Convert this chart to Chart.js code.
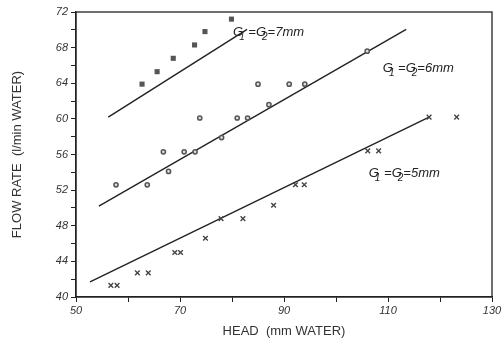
<!DOCTYPE html>
<html>
<head>
<meta charset="utf-8">
<script src="https://cdn.jsdelivr.net/npm/chart.js@4"></script>
<style>
  html, body { margin: 0; padding: 0; background: #fff; }
  #wrap { width: 504px; height: 343px; }
</style>
</head>
<body>
<div id="wrap"><canvas id="chart"></canvas></div>
<script>
// datos
const gap7Head = [62.7, 65.6, 68.7, 72.8, 74.8, 79.9];
const gap7Flow = [63.9, 65.3, 66.8, 68.3, 69.8, 71.2];

const gap6Head = [57.7, 63.7, 66.8, 67.8, 70.8, 72.9, 73.8, 78.0, 81.0, 83.0, 85.0, 87.1, 91.0, 94.0, 106.0];
const gap6Flow = [52.6, 52.6, 56.3, 54.1, 56.3, 56.3, 60.1, 57.9, 60.1, 60.1, 63.9, 61.6, 63.9, 63.9, 67.6];

const gap5Head = [56.7, 57.9, 61.8, 63.9, 69.0, 70.1, 74.9, 77.9, 82.1, 88.0, 92.2, 93.9, 106.1, 108.2, 117.9, 123.2];
const gap5Flow = [41.3, 41.3, 42.7, 42.7, 45.0, 45.0, 46.6, 48.8, 48.8, 50.3, 52.6, 52.6, 56.4, 56.4, 60.2, 60.2];

// rectas de ajuste (extremos)
const fit7Head = [56.2, 82.9];
const fit7Flow = [60.2, 70.05];
const fit6Head = [54.4, 113.5];
const fit6Flow = [50.2, 70.05];
const fit5Head = [52.7, 117.9];
const fit5Flow = [41.7, 60.2];

const xTicks = [50, 70, 90, 110, 130];
const yTicks = [40, 44, 48, 52, 56, 60, 64, 68, 72];

const labels = [
    { head: 80.2, flow: 69.3, gap: '7mm' },
    { head: 109.0, flow: 65.3, gap: '6mm' },
    { head: 106.3, flow: 53.5, gap: '5mm' }
];

function toPoints(xs, ys) {
    return xs.map((x, i) => ({ x: x, y: ys[i] }));
}

const ink = '#222';
const markColor = '#555';

// marco completo del area
const framePlugin = {
    id: 'frame',
    afterDraw(chart) {
        const a = chart.chartArea;
        const ctx = chart.ctx;
        ctx.save();
        ctx.strokeStyle = ink;
        ctx.lineWidth = 1.3;
        ctx.strokeRect(a.left, a.top, a.right - a.left, a.bottom - a.top);
        ctx.restore();
    }
};

// etiquetas G1 = G2 = ...
const gapLabelPlugin = {
    id: 'gapLabels',
    afterDatasetsDraw(chart) {
        const ctx = chart.ctx;
        const xs = chart.scales.x;
        const ys = chart.scales.y;
        ctx.save();
        ctx.fillStyle = ink;
        ctx.textBaseline = 'alphabetic';
        labels.forEach(l => {
            let px = xs.getPixelForValue(l.head);
            let py = ys.getPixelForValue(l.flow);
            const big = 'italic 13px "Liberation Sans", Arial, sans-serif';
            const small = 'italic 10px "Liberation Sans", Arial, sans-serif';
            const parts = [
                ['G', big, 0], ['1', small, 4], [' =G', big, 0], ['2', small, 4], ['=' + l.gap, big, 0]
            ];
            parts.forEach(p => {
                ctx.font = p[1];
                let w = ctx.measureText(p[0]).width;
                if (p[0] === '1' || p[0] === '2') {
                    ctx.fillText(p[0], px - 4, py + p[2]);
                    px += w - 4;
                } else {
                    ctx.fillText(p[0], px, py + p[2]);
                    px += w;
                }
            });
        });
        ctx.restore();
    }
};

const tickFont = { family: '"Liberation Sans", Arial, sans-serif', size: 11, style: 'italic' };
const titleFont = { family: '"Liberation Sans", Arial, sans-serif', size: 13 };

new Chart(document.getElementById('chart'), {
    type: 'scatter',
    data: {
        datasets: [
            {
                label: '7mm',
                data: toPoints(gap7Head, gap7Flow),
                pointStyle: 'rect',
                pointRadius: 3.6,
                backgroundColor: markColor,
                borderColor: markColor,
                borderWidth: 0
            },
            {
                label: '6mm',
                data: toPoints(gap6Head, gap6Flow),
                pointStyle: 'circle',
                pointRadius: 2.1,
                backgroundColor: '#ddd',
                borderColor: markColor,
                borderWidth: 1.5
            },
            {
                label: '5mm',
                data: toPoints(gap5Head, gap5Flow),
                pointStyle: 'crossRot',
                pointRadius: 3.3,
                borderColor: '#444',
                borderWidth: 1.4
            },
            {
                type: 'line',
                data: toPoints(fit7Head, fit7Flow),
                borderColor: ink,
                borderWidth: 1.4,
                pointRadius: 0
            },
            {
                type: 'line',
                data: toPoints(fit6Head, fit6Flow),
                borderColor: ink,
                borderWidth: 1.4,
                pointRadius: 0
            },
            {
                type: 'line',
                data: toPoints(fit5Head, fit5Flow),
                borderColor: ink,
                borderWidth: 1.4,
                pointRadius: 0
            }
        ]
    },
    options: {
        responsive: true,
        maintainAspectRatio: false,
        animation: false,
        layout: { padding: { top: 12, right: 12, left: 0, bottom: 0 } },
        plugins: {
            legend: { display: false },
            tooltip: { enabled: false }
        },
        scales: {
            x: {
                type: 'linear',
                min: 50,
                max: 130,
                afterFit: s => { s.height = 46; },
                border: { display: true, color: ink, width: 1.3 },
                grid: { drawOnChartArea: false, drawTicks: true, tickLength: 5, color: ink },
                ticks: {
                    stepSize: 10,
                    color: '#333',
                    font: tickFont,
                    padding: 2,
                    maxRotation: 0,
                    callback: v => xTicks.includes(v) ? String(v) : ''
                },
                title: {
                    display: true,
                    text: 'HEAD  (mm WATER)',
                    color: '#333',
                    font: titleFont,
                    padding: { top: 1 }
                }
            },
            y: {
                type: 'linear',
                min: 40,
                max: 72,
                afterFit: s => { s.width = 76; },
                border: { display: true, color: ink, width: 1.3 },
                grid: { drawOnChartArea: false, drawTicks: true, tickLength: 5, color: ink },
                ticks: {
                    stepSize: 2,
                    color: '#333',
                    font: tickFont,
                    padding: 3,
                    callback: v => yTicks.includes(v) ? String(v) : ''
                },
                title: {
                    display: true,
                    text: 'FLOW RATE  (l/min WATER)',
                    color: '#333',
                    font: titleFont,
                    padding: { top: 10, bottom: 4 }
                }
            }
        }
    },
    plugins: [framePlugin, gapLabelPlugin]
});
</script>
</body>
</html>
